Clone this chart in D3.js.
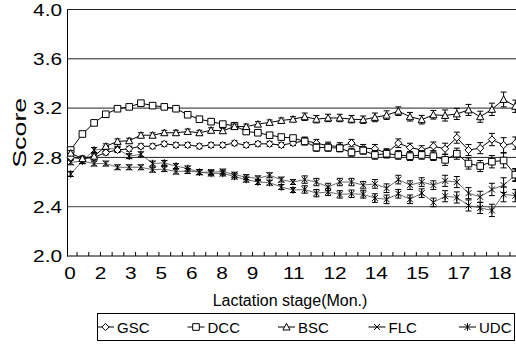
<!DOCTYPE html>
<html>
<head>
<meta charset="utf-8">
<script src="https://cdn.jsdelivr.net/npm/d3@7"></script>
<style>
  body { margin: 0; background: #fff; }
  svg { display: block; font-family: "Liberation Sans", Arial, sans-serif; }
</style>
</head>
<body>
<div id="chart"></div>
<script>
// Lactation stage categories (months, half-month steps)
const stages = [0, 0.5, 1, 1.5, 2, 2.5, 3, 3.5, 4, 4.5, 5, 5.5, 6, 6.5, 7, 7.5, 8, 8.5, 9, 9.5,
                10, 10.5, 11, 11.5, 12, 12.5, 13, 13.5, 14, 14.5, 15, 15.5, 16, 16.5, 17, 17.5, 18, 18.5, 19];

// x labels shown every 1.5 months (printed rounded)
const xLabels = [0, 1.5, 3, 4.5, 6, 7.5, 9, 10.5, 12, 13.5, 15, 16.5, 18];
const yTicks = [2.0, 2.4, 2.8, 3.2, 3.6, 4.0];

const seriesNames = ["GSC", "DCC", "BSC", "FLC", "UDC"];

const gsc = [2.80, 2.79, 2.80, 2.84, 2.86, 2.87, 2.89, 2.89, 2.91, 2.90, 2.90, 2.89, 2.90, 2.90, 2.915, 2.90, 2.91, 2.91, 2.90, 2.916,
             2.935, 2.916, 2.894, 2.889, 2.916, 2.875, 2.87, 2.835, 2.915, 2.88, 2.86, 2.89, 2.87, 2.96, 2.86, 2.875, 2.945, 2.90, 2.916];
const dcc = [2.86, 2.99, 3.08, 3.15, 3.195, 3.21, 3.24, 3.22, 3.21, 3.195, 3.146, 3.11, 3.09, 3.07, 3.057, 3.01, 3.00, 2.98, 2.965, 2.957,
             2.93, 2.88, 2.88, 2.875, 2.84, 2.856, 2.82, 2.83, 2.82, 2.81, 2.82, 2.81, 2.78, 2.83, 2.75, 2.73, 2.765, 2.775, 2.66];
const bsc = [2.835, 2.79, 2.81, 2.89, 2.93, 2.935, 2.98, 2.98, 3.00, 3.00, 3.01, 3.00, 3.02, 3.016, 3.05, 3.05, 3.07, 3.084, 3.10, 3.11,
             3.13, 3.11, 3.12, 3.12, 3.11, 3.106, 3.125, 3.143, 3.175, 3.13, 3.106, 3.146, 3.14, 3.153, 3.185, 3.13, 3.19, 3.27, 3.215];
const flc = [2.76, 2.77, 2.75, 2.75, 2.72, 2.72, 2.72, 2.70, 2.705, 2.685, 2.69, 2.68, 2.68, 2.685, 2.66, 2.64, 2.63, 2.655, 2.62, 2.60,
             2.62, 2.60, 2.56, 2.60, 2.60, 2.575, 2.585, 2.55, 2.62, 2.575, 2.60, 2.575, 2.61, 2.60, 2.51, 2.48, 2.54, 2.575, 2.655];
const udc = [2.665, 2.77, 2.86, 2.87, 2.87, 2.81, 2.825, 2.75, 2.755, 2.73, 2.71, 2.68, 2.67, 2.67, 2.645, 2.62, 2.60, 2.595, 2.56, 2.535,
             2.54, 2.51, 2.52, 2.50, 2.505, 2.50, 2.47, 2.46, 2.505, 2.46, 2.51, 2.435, 2.485, 2.475, 2.41, 2.39, 2.37, 2.50, 2.49];

// standard error per stage
const stdErr = [0.02, 0.02, 0.02, 0.02, 0.02, 0.02, 0.02, 0.02, 0.02, 0.02, 0.02, 0.02, 0.02, 0.02, 0.02, 0.02, 0.02, 0.02, 0.02, 0.02,
                0.03, 0.03, 0.03, 0.03, 0.03, 0.03, 0.035, 0.035, 0.035, 0.035, 0.035, 0.035, 0.045, 0.045, 0.045, 0.045, 0.05, 0.06, 0.05];

// Chart dimensions
const W = 516, H = 345;
const plotLeft = 67, plotTop = 9.5, plotBottom = 256;
const step = 23.4; // px per month

const svg = d3.select("#chart").append("svg")
    .attr("width", W)
    .attr("height", H);

const xScale = d3.scaleLinear()
    .domain([0, 19])
    .range([plotLeft + 3.7, plotLeft + 3.7 + 19 * step]);

const yScale = d3.scaleLinear()
    .domain([2, 4])
    .range([plotBottom, plotTop]);

// label positions on the printed axis are uneven, so they get their own scale
const labelScale = d3.scaleLinear()
    .domain([0, 9, 18])
    .range([70, 252.5, 500]);

// Gridlines
svg.append("g")
    .selectAll("line")
    .data(yTicks.filter(d => d > 2))
    .join("line")
    .attr("x1", plotLeft)
    .attr("x2", W)
    .attr("y1", d => yScale(d))
    .attr("y2", d => yScale(d))
    .attr("stroke", d => d === 2.4 ? "#666" : "#222")
    .attr("stroke-width", d => d === 2.4 ? 1.3 : 1);

// Y axis
const yAxis = svg.append("g")
    .attr("transform", `translate(${plotLeft},0)`)
    .call(d3.axisLeft(yScale).tickValues(yTicks).tickSize(0).tickSizeOuter(0).tickFormat(d3.format(".1f")));
yAxis.select(".domain").attr("stroke", "#000");
yAxis.selectAll("text")
    .attr("x", 0)
    .attr("dy", "0.35em")
    .attr("transform", "translate(-5,0) scale(1.3,1)")
    .style("font-size", "16px")
    .style("font-family", "'Liberation Sans', Arial, sans-serif")
    .attr("fill", "#000");

// X axis: small ticks between categories, pointing up
const xAxis = svg.append("g")
    .attr("transform", `translate(0,${plotBottom})`)
    .call(d3.axisBottom(xScale).tickValues(stages.slice(0, -1).map(d => d + 0.25)).tickSize(-4).tickSizeOuter(0).tickFormat(""));
xAxis.select(".domain").remove();
xAxis.selectAll("line").attr("stroke", "#000");

svg.append("line")
    .attr("x1", plotLeft).attr("x2", W)
    .attr("y1", plotBottom).attr("y2", plotBottom)
    .attr("stroke", "#000");

svg.append("g")
    .selectAll("text")
    .data(xLabels)
    .join("text")
    .attr("transform", d => `translate(${labelScale(d)},279) scale(1.3,1)`)
    .attr("text-anchor", "middle")
    .style("font-size", "16px")
    .text(d => d3.format(".0f")(d));

// Axis titles
svg.append("text")
    .attr("transform", `translate(26,${(plotTop + plotBottom) / 2}) rotate(-90)`)
    .attr("text-anchor", "middle")
    .attr("textLength", 70)
    .attr("lengthAdjust", "spacingAndGlyphs")
    .style("font-size", "19px")
    .text("Score");

svg.append("text")
    .attr("x", 290)
    .attr("y", 306)
    .attr("text-anchor", "middle")
    .style("font-size", "16px")
    .text("Lactation stage(Mon.)");

// Marker shapes
const markers = {
    GSC: "M0,-3.6L3.6,0L0,3.6L-3.6,0Z",
    DCC: "M-3.3,-3.3H3.3V3.3H-3.3Z",
    BSC: "M0,-3.6L3.6,3L-3.6,3Z",
    FLC: "M-3,-3L3,3M3,-3L-3,3",
    UDC: "M-3,-3L3,3M3,-3L-3,3M0,-3.8V3.8"
};
const openMark = name => name === "FLC" || name === "UDC";

const seriesValues = [gsc, dcc, bsc, flc, udc];
const series = seriesNames.map((name, k) => ({
    name: name,
    values: seriesValues[k].map((v, i) => ({stage: stages[i], value: v, err: stdErr[i]}))
}));

const line = d3.line()
    .x(d => xScale(d.stage))
    .y(d => yScale(d.value));

// Draw lower series first so upper markers sit on top
const drawOrder = ["UDC", "FLC", "GSC", "DCC", "BSC"];
drawOrder.forEach(name => {
    const s = series.find(d => d.name === name);
    const g = svg.append("g").attr("class", "series-" + name);

    // FLC / UDC connectors print lighter in the original
    g.append("path")
        .datum(s.values)
        .attr("fill", "none")
        .attr("stroke", openMark(name) ? "#444" : "#000")
        .attr("stroke-width", openMark(name) ? 0.8 : 1)
        .attr("d", line);

    // error bars
    const eb = g.selectAll(".err")
        .data(s.values)
        .join("g")
        .attr("class", "err")
        .attr("transform", d => `translate(${xScale(d.stage)},0)`);
    eb.append("line")
        .attr("y1", d => yScale(d.value - d.err))
        .attr("y2", d => yScale(d.value + d.err))
        .attr("stroke", "#000");
    eb.append("line")
        .attr("x1", -3).attr("x2", 3)
        .attr("y1", d => yScale(d.value + d.err))
        .attr("y2", d => yScale(d.value + d.err))
        .attr("stroke", "#000");
    eb.append("line")
        .attr("x1", -3).attr("x2", 3)
        .attr("y1", d => yScale(d.value - d.err))
        .attr("y2", d => yScale(d.value - d.err))
        .attr("stroke", "#000");

    g.selectAll(".mark")
        .data(s.values)
        .join("path")
        .attr("class", "mark")
        .attr("transform", d => `translate(${xScale(d.stage)},${yScale(d.value)})`)
        .attr("d", markers[name])
        .attr("fill", openMark(name) ? "none" : "#fff")
        .attr("stroke", "#000")
        .attr("stroke-width", 1);
});

// Legend
const legend = svg.append("g");
legend.append("rect")
    .attr("x", 97.5).attr("y", 313.5)
    .attr("width", 417).attr("height", 27)
    .attr("fill", "#fff")
    .attr("stroke", "#000");

const item = legend.selectAll(".item")
    .data(seriesNames)
    .join("g")
    .attr("class", "item")
    .attr("transform", (d, i) => `translate(${116 + i * 90.5},327)`);
item.append("line")
    .attr("x1", -19).attr("x2", -2)
    .attr("stroke", "#000");
item.append("path")
    .attr("transform", "translate(-10.5,0)")
    .attr("d", d => markers[d])
    .attr("fill", d => openMark(d) ? "none" : "#fff")
    .attr("stroke", "#000");
item.append("text")
    .attr("x", 1)
    .attr("y", 5.5)
    .style("font-size", "15px")
    .text(d => d);
</script>
</body>
</html>
